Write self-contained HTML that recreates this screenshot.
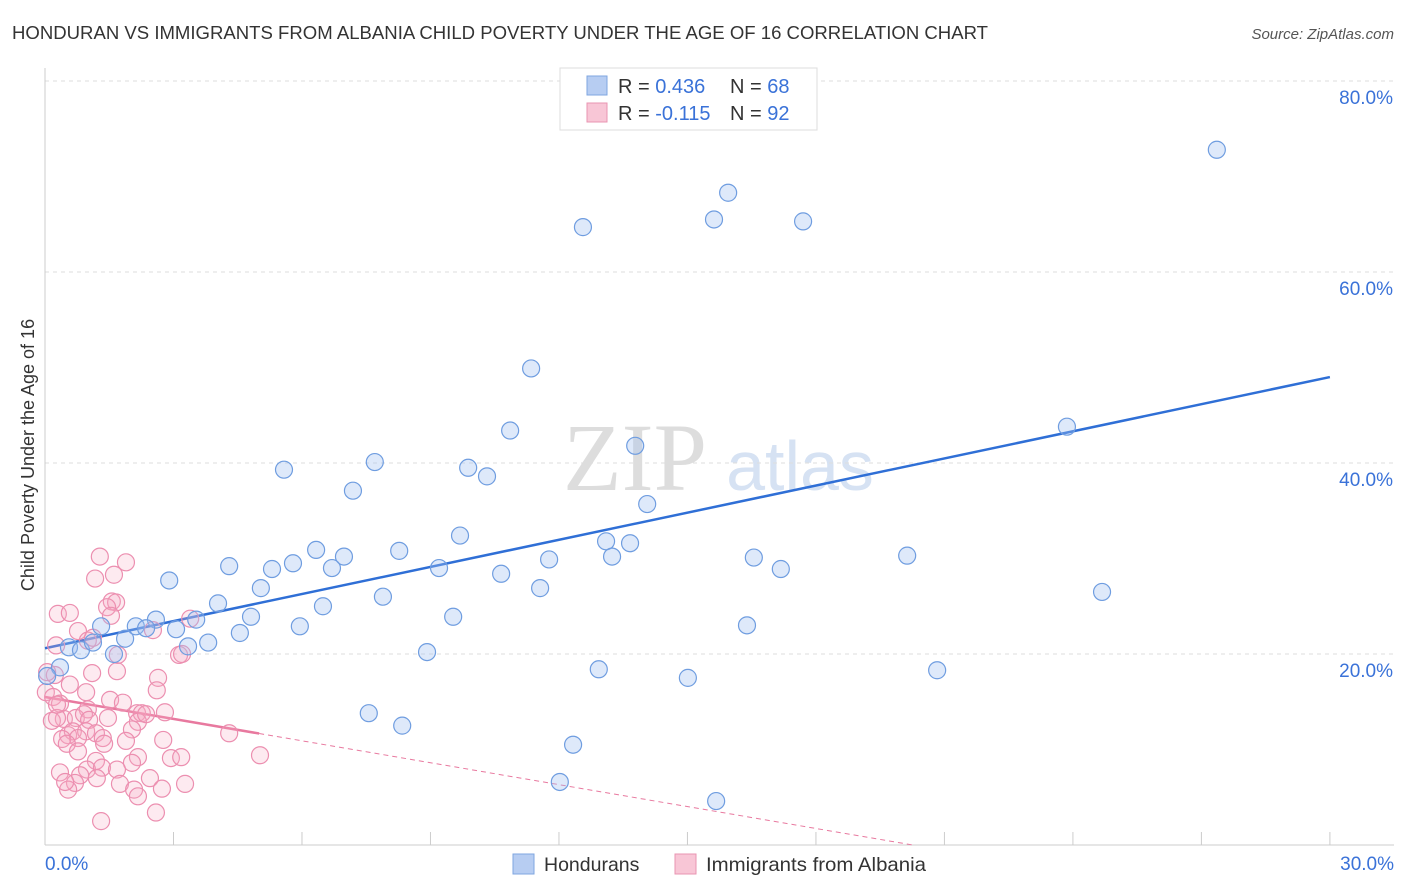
<!DOCTYPE html>
<html><head><meta charset="utf-8"><style>
body{margin:0;background:#fff;font-family:"Liberation Sans",sans-serif;}
#wrap{position:relative;width:1406px;height:892px;overflow:hidden;}
</style></head><body>
<div id="wrap">
<svg id="svg" width="1406" height="892" xmlns="http://www.w3.org/2000/svg" font-family="Liberation Sans, sans-serif">
<text x="12" y="39" font-size="18" fill="#333" textLength="976" lengthAdjust="spacingAndGlyphs">HONDURAN VS IMMIGRANTS FROM ALBANIA CHILD POVERTY UNDER THE AGE OF 16 CORRELATION CHART</text>
<text x="1394" y="39" font-size="15" fill="#555" font-style="italic" text-anchor="end">Source: ZipAtlas.com</text>
<text transform="translate(34,455) rotate(-90)" font-size="18" fill="#333" text-anchor="middle">Child Poverty Under the Age of 16</text>
<g><text x="635" y="490" font-size="96" fill="#ddd" text-anchor="middle" font-family="Liberation Serif, serif">ZIP</text><text x="800" y="490" font-size="70" fill="#d6e2f3" text-anchor="middle">atlas</text></g>
<g id="grid"></g><g id="axes"></g><g id="lines"></g><g id="pts"></g>
<g>
<rect x="560" y="68" width="257" height="62" fill="#fff" stroke="#ddd"/>
<rect x="587" y="76" width="20" height="19" fill="#b7cdf2" stroke="#7fa6e0"/>
<rect x="587" y="103" width="20" height="19" fill="#f8c6d6" stroke="#e994b2"/>
<text x="618" y="93" font-size="20" fill="#333">R = <tspan fill="#3a72d8">0.436</tspan><tspan x="730">N = </tspan><tspan fill="#3a72d8">68</tspan></text>
<text x="618" y="120" font-size="20" fill="#333">R = <tspan fill="#3a72d8">-0.115</tspan><tspan x="730">N = </tspan><tspan fill="#3a72d8">92</tspan></text>
</g>
<g>
<rect x="513" y="854" width="21" height="20" fill="#b7cdf2" stroke="#7fa6e0"/>
<text x="544" y="871" font-size="19.5" fill="#333">Hondurans</text>
<rect x="675" y="854" width="21" height="20" fill="#f8c6d6" stroke="#e994b2"/>
<text x="706" y="871" font-size="19.5" fill="#333" textLength="220" lengthAdjust="spacingAndGlyphs">Immigrants from Albania</text>
</g>
</svg>
</div>
<script>
const blueX=[27.36,15.95,15.62,17.70,12.56,11.35,23.86,10.86,13.78,7.70,5.58,9.88,10.32,7.19,14.06,9.69,6.33,13.10,13.66,6.98,8.27,11.77,13.24,16.55,20.13,5.79,5.30,4.30,6.70,9.20,10.65,17.18,2.90,5.04,11.56,7.89,24.68,4.04,6.49,4.81,9.53,2.59,3.53,2.12,1.31,3.06,2.36,5.95,4.55,16.39,1.87,3.81,3.34,0.56,0.84,1.12,8.92,1.61,0.35,12.93,20.83,15.01,0.05,7.56,8.34,12.33,12.02,15.67];
const blueY=[72.8,68.3,65.5,65.3,64.7,49.9,43.8,43.4,41.8,40.1,39.3,39.5,38.6,37.1,35.7,32.4,30.9,31.8,31.6,30.2,30.8,29.9,30.2,30.1,30.3,29.5,28.9,29.2,29.0,29.0,28.4,28.9,27.7,26.9,26.9,26.0,26.5,25.3,25.0,23.9,23.9,23.6,23.6,22.9,22.9,22.6,22.7,22.9,22.2,23.0,21.6,21.2,20.8,20.7,20.4,21.2,20.2,20.0,18.6,18.4,18.3,17.5,17.7,13.8,12.5,10.5,6.6,4.6];
const pinkX=[1.28,1.89,1.17,1.61,0.30,0.58,1.56,1.66,1.45,1.54,2.52,0.77,3.39,0.26,1.00,1.12,1.70,3.13,3.20,0.23,0.58,1.10,1.68,2.64,0.02,0.96,0.19,0.35,2.61,1.52,1.82,1.00,0.44,0.72,0.16,0.28,1.47,0.91,2.15,2.26,2.17,1.03,2.80,2.36,0.54,0.65,0.96,1.19,0.77,0.40,1.35,2.03,4.30,1.38,0.51,1.89,2.76,2.17,2.03,2.94,3.18,1.19,0.35,0.98,1.33,1.68,5.02,1.21,0.82,0.70,1.75,2.45,3.27,0.54,2.08,2.73,2.17,0.47,2.59,1.31,0.77,0.28,0.05];
const pinkY=[30.2,29.6,27.9,28.3,24.2,24.3,25.5,25.4,24.9,24.0,22.5,22.4,23.7,20.9,21.4,21.7,19.9,19.9,20.0,17.8,16.8,18.0,18.2,17.5,16.0,16.0,15.5,14.8,16.2,15.2,14.9,14.2,13.2,13.3,13.0,13.3,13.3,13.7,13.8,13.8,12.9,13.1,13.9,13.7,11.5,11.9,11.9,11.7,11.2,11.1,11.2,12.1,11.7,10.6,10.6,10.9,11.0,9.2,8.6,9.1,9.2,8.8,7.6,7.9,8.1,7.9,9.4,7.0,7.3,6.5,6.4,7.0,6.4,5.8,5.8,5.9,5.1,6.6,3.4,2.5,9.8,14.7,18.1];
const blueTrend=[20.6,49.0];      // y at x=0 and x=30
const pinkTrend=[15.5,-0.765];    // intercept, slope
const yTicks=[20,40,60,80];
const xTickLabels=["0.0%","30.0%"];

const NS="http://www.w3.org/2000/svg";
const sx=v=>45+v*42.83, sy=v=>845-v*9.55;
function mk(tag,attrs,parent){const e=document.createElementNS(NS,tag);for(const k in attrs)e.setAttribute(k,attrs[k]);document.getElementById(parent).appendChild(e);return e;}
yTicks.forEach(t=>{
  const l=mk('line',{x1:45,x2:1394,y1:sy(t),y2:sy(t),stroke:'#ddd','stroke-dasharray':'4,4'},'grid');
  
  
  const tx=mk('text',{x:1393,y:sy(t)+23,'font-size':19,fill:'#3a72d8','text-anchor':'end'},'grid');
  tx.textContent=t.toFixed(1)+'%';
  
  
});
const ax=mk('line',{x1:45,x2:1394,y1:845,y2:845,stroke:'#ccc'},'axes');


const ay=mk('line',{x1:45,x2:45,y1:68,y2:845,stroke:'#ccc'},'axes');


for(let i=0;i<=10;i++){
  const t=mk('line',{x1:sx(i*3),x2:sx(i*3),y1:845,y2:832,stroke:'#ccc'},'axes');
  
  
}
const xl0=mk('text',{x:45,y:870,'font-size':19,fill:'#3a72d8'},'axes');xl0.textContent=xTickLabels[0];


const xl1=mk('text',{x:1394,y:870,'font-size':19,fill:'#3a72d8','text-anchor':'end'},'axes');xl1.textContent=xTickLabels[1];



const bl=mk('line',{x1:sx(0),y1:sy(blueTrend[0]),x2:sx(30),y2:sy(blueTrend[1]),stroke:'#2f6fd6','stroke-width':2.5},'lines');


const pf=x=>pinkTrend[0]+pinkTrend[1]*x;
const xz=-pinkTrend[0]/pinkTrend[1];
const pd=mk('line',{x1:sx(5),y1:sy(pf(5)),x2:sx(xz),y2:sy(0),stroke:'#e8799f','stroke-width':1,'stroke-dasharray':'5,4'},'lines');


const ps=mk('line',{x1:sx(0),y1:sy(pf(0)),x2:sx(5),y2:sy(pf(5)),stroke:'#e8799f','stroke-width':2.5},'lines');



pinkX.forEach((x,i)=>{
  const c=mk('circle',{cx:sx(x),cy:sy(pinkY[i]),r:8.5,fill:'rgba(246,170,196,0.25)',stroke:'#ec8fb0','stroke-width':1.2},'pts');
  
  
});
blueX.forEach((x,i)=>{
  const c=mk('circle',{cx:sx(x),cy:sy(blueY[i]),r:8.5,fill:'rgba(160,192,240,0.35)',stroke:'#6f9de0','stroke-width':1.2},'pts');
  
  
});
</script>
</body></html>
